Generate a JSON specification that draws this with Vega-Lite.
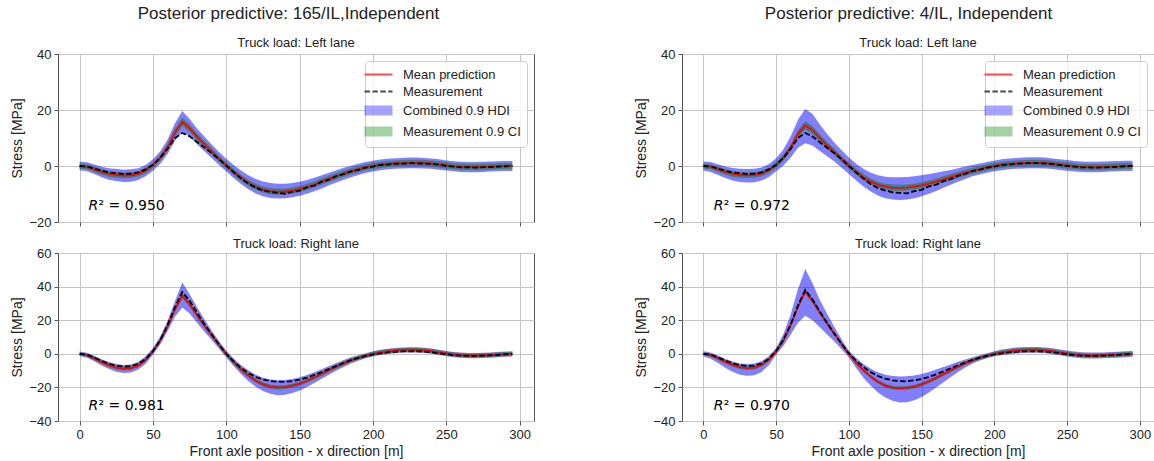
{
"$schema": "https://vega.github.io/schema/vega-lite/v6.json",
"padding": {"left": 10, "top": 4, "right": 0, "bottom": 0},
"config": {
 "font": "Liberation Sans",
 "view": {"stroke": "#555555", "strokeWidth": 1},
 "axis": {"grid": true, "gridColor": "#c4c4c4", "gridWidth": 1, "domain": false, "tickColor": "#555555", "tickSize": 4, "labelFontSize": 13, "labelColor": "#222222", "labelFont": "Liberation Sans", "titleFont": "Liberation Sans", "titleFontSize": 14, "titleFontWeight": "normal", "titleColor": "#222222", "labelPadding": 3, "labelOverlap": false},
 "axisY": {"labelOverlap": false},
 "axisQuantitative": {"labelOverlap": false},
 "title": {"font": "Liberation Sans", "fontWeight": "normal", "color": "#222222"}
},
"datasets": {
"A": [
{"x":0,"m":0,"d":0,"hl":-1.5,"hh":1.5,"cl":-0.9,"ch":0.9},
{"x":5,"m":-0.3,"d":-0.2,"hl":-1.9,"hh":1.3,"cl":-1.2,"ch":0.6},
{"x":10,"m":-1.2,"d":-0.9,"hl":-2.9,"hh":0.5,"cl":-2.1,"ch":-0.3},
{"x":15,"m":-2.1,"d":-1.7,"hl":-4.0,"hh":-0.3,"cl":-3.1,"ch":-1.1},
{"x":20,"m":-2.8,"d":-2.3,"hl":-4.9,"hh":-0.8,"cl":-3.8,"ch":-1.8},
{"x":25,"m":-3.2,"d":-2.6,"hl":-5.4,"hh":-1.1,"cl":-4.2,"ch":-2.2},
{"x":30,"m":-3.4,"d":-2.8,"hl":-5.7,"hh":-1.3,"cl":-4.4,"ch":-2.4},
{"x":35,"m":-3.3,"d":-2.7,"hl":-5.6,"hh":-1.2,"cl":-4.3,"ch":-2.3},
{"x":40,"m":-2.8,"d":-2.3,"hl":-5.0,"hh":-0.8,"cl":-3.8,"ch":-1.8},
{"x":45,"m":-1.6,"d":-1.2,"hl":-3.7,"hh":0.4,"cl":-2.6,"ch":-0.6},
{"x":50,"m":0.3,"d":0.4,"hl":-1.7,"hh":2.4,"cl":-0.7,"ch":1.3},
{"x":55,"m":3.0,"d":2.9,"hl":0.8,"hh":5.3,"cl":1.9,"ch":4.1},
{"x":60,"m":6.8,"d":6.2,"hl":4.3,"hh":9.5,"cl":5.6,"ch":8.0},
{"x":65,"m":12.0,"d":10.0,"hl":9.0,"hh":15.3,"cl":10.6,"ch":13.4},
{"x":70,"m":15.8,"d":11.8,"hl":12.3,"hh":19.6,"cl":14.3,"ch":17.3},
{"x":75,"m":13.5,"d":10.6,"hl":10.5,"hh":16.8,"cl":12.1,"ch":14.9},
{"x":80,"m":10.5,"d":8.6,"hl":7.8,"hh":13.4,"cl":9.2,"ch":11.8},
{"x":85,"m":7.8,"d":6.6,"hl":5.3,"hh":10.5,"cl":6.6,"ch":9.0},
{"x":90,"m":5.2,"d":4.6,"hl":2.9,"hh":7.7,"cl":4.0,"ch":6.4},
{"x":95,"m":2.6,"d":2.4,"hl":0.4,"hh":5.0,"cl":1.5,"ch":3.7},
{"x":100,"m":0.2,"d":0.1,"hl":-2.0,"hh":2.6,"cl":-0.9,"ch":1.3},
{"x":105,"m":-2.1,"d":-2.2,"hl":-4.3,"hh":0.4,"cl":-3.2,"ch":-1.0},
{"x":110,"m":-4.2,"d":-4.4,"hl":-6.4,"hh":-1.6,"cl":-5.3,"ch":-3.1},
{"x":115,"m":-6.0,"d":-6.3,"hl":-8.3,"hh":-3.3,"cl":-7.1,"ch":-4.9},
{"x":120,"m":-7.4,"d":-7.7,"hl":-9.8,"hh":-4.6,"cl":-8.5,"ch":-6.3},
{"x":125,"m":-8.4,"d":-8.8,"hl":-10.8,"hh":-5.5,"cl":-9.5,"ch":-7.3},
{"x":130,"m":-9.0,"d":-9.3,"hl":-11.4,"hh":-6.1,"cl":-10.1,"ch":-7.9},
{"x":135,"m":-9.2,"d":-9.6,"hl":-11.6,"hh":-6.3,"cl":-10.3,"ch":-8.1},
{"x":140,"m":-9.1,"d":-9.9,"hl":-11.5,"hh":-6.3,"cl":-10.2,"ch":-8.0},
{"x":145,"m":-8.8,"d":-9.2,"hl":-11.2,"hh":-6.1,"cl":-9.9,"ch":-7.7},
{"x":150,"m":-8.2,"d":-8.8,"hl":-10.6,"hh":-5.6,"cl":-9.3,"ch":-7.1},
{"x":155,"m":-7.5,"d":-7.6,"hl":-9.9,"hh":-5.0,"cl":-8.6,"ch":-6.4},
{"x":160,"m":-6.6,"d":-7.0,"hl":-9.0,"hh":-4.2,"cl":-7.7,"ch":-5.5},
{"x":165,"m":-5.6,"d":-5.6,"hl":-8.0,"hh":-3.3,"cl":-6.7,"ch":-4.5},
{"x":170,"m":-4.6,"d":-4.9,"hl":-6.9,"hh":-2.4,"cl":-5.7,"ch":-3.5},
{"x":175,"m":-3.6,"d":-3.6,"hl":-5.9,"hh":-1.5,"cl":-4.7,"ch":-2.5},
{"x":180,"m":-2.7,"d":-2.9,"hl":-4.9,"hh":-0.6,"cl":-3.8,"ch":-1.6},
{"x":185,"m":-1.9,"d":-1.9,"hl":-4.0,"hh":0.1,"cl":-3.0,"ch":-0.8},
{"x":190,"m":-1.2,"d":-1.4,"hl":-3.2,"hh":0.8,"cl":-2.3,"ch":-0.1},
{"x":195,"m":-0.5,"d":-0.6,"hl":-2.5,"hh":1.4,"cl":-1.6,"ch":0.6},
{"x":200,"m":0,"d":-0.2,"hl":-2.0,"hh":1.9,"cl":-1.1,"ch":1.1},
{"x":205,"m":0.4,"d":0.4,"hl":-1.5,"hh":2.3,"cl":-0.7,"ch":1.5},
{"x":210,"m":0.7,"d":0.5,"hl":-1.2,"hh":2.6,"cl":-0.4,"ch":1.8},
{"x":215,"m":0.9,"d":0.8,"hl":-1.0,"hh":2.8,"cl":-0.2,"ch":2.0},
{"x":220,"m":1.0,"d":0.8,"hl":-0.9,"hh":2.9,"cl":-0.1,"ch":2.1},
{"x":225,"m":1.1,"d":1.0,"hl":-0.8,"hh":3.0,"cl":0.0,"ch":2.2},
{"x":230,"m":1.1,"d":0.9,"hl":-0.8,"hh":3.0,"cl":0.0,"ch":2.2},
{"x":235,"m":1.0,"d":0.9,"hl":-0.9,"hh":2.9,"cl":-0.1,"ch":2.1},
{"x":240,"m":0.9,"d":0.7,"hl":-1.0,"hh":2.7,"cl":-0.2,"ch":2.0},
{"x":245,"m":0.6,"d":0.5,"hl":-1.3,"hh":2.4,"cl":-0.5,"ch":1.7},
{"x":250,"m":0.2,"d":0.0,"hl":-1.6,"hh":2.0,"cl":-0.9,"ch":1.3},
{"x":255,"m":-0.1,"d":-0.2,"hl":-1.9,"hh":1.7,"cl":-1.2,"ch":1.0},
{"x":260,"m":-0.3,"d":-0.5,"hl":-2.1,"hh":1.5,"cl":-1.4,"ch":0.8},
{"x":265,"m":-0.4,"d":-0.4,"hl":-2.2,"hh":1.4,"cl":-1.5,"ch":0.7},
{"x":270,"m":-0.4,"d":-0.6,"hl":-2.2,"hh":1.4,"cl":-1.5,"ch":0.7},
{"x":275,"m":-0.3,"d":-0.4,"hl":-2.1,"hh":1.5,"cl":-1.4,"ch":0.8},
{"x":280,"m":-0.2,"d":-0.4,"hl":-2.0,"hh":1.6,"cl":-1.3,"ch":0.9},
{"x":285,"m":-0.1,"d":-0.2,"hl":-1.9,"hh":1.7,"cl":-1.2,"ch":1.0},
{"x":290,"m":0,"d":-0.1,"hl":-1.8,"hh":1.8,"cl":-1.1,"ch":1.1},
{"x":295,"m":0,"d":0,"hl":-1.8,"hh":1.8,"cl":-1.1,"ch":1.1}
],
"B": [
{"x":0,"m":0,"d":0,"hl":-1.6,"hh":1.6,"cl":-0.9,"ch":0.9},
{"x":5,"m":-0.3,"d":-0.2,"hl":-2.1,"hh":1.4,"cl":-1.2,"ch":0.6},
{"x":10,"m":-1.2,"d":-0.9,"hl":-3.2,"hh":0.6,"cl":-2.1,"ch":-0.3},
{"x":15,"m":-2.1,"d":-1.7,"hl":-4.3,"hh":-0.2,"cl":-3.1,"ch":-1.1},
{"x":20,"m":-2.8,"d":-2.3,"hl":-5.2,"hh":-0.7,"cl":-3.8,"ch":-1.8},
{"x":25,"m":-3.2,"d":-2.6,"hl":-5.7,"hh":-1.0,"cl":-4.2,"ch":-2.2},
{"x":30,"m":-3.3,"d":-2.8,"hl":-5.9,"hh":-1.1,"cl":-4.3,"ch":-2.3},
{"x":35,"m":-3.2,"d":-2.7,"hl":-5.8,"hh":-1.0,"cl":-4.2,"ch":-2.2},
{"x":40,"m":-2.7,"d":-2.3,"hl":-5.2,"hh":-0.5,"cl":-3.7,"ch":-1.7},
{"x":45,"m":-1.5,"d":-1.2,"hl":-3.9,"hh":0.7,"cl":-2.5,"ch":-0.5},
{"x":50,"m":0.4,"d":0.4,"hl":-1.9,"hh":2.8,"cl":-0.6,"ch":1.4},
{"x":55,"m":3.0,"d":2.9,"hl":0.2,"hh":6.0,"cl":1.9,"ch":4.1},
{"x":60,"m":6.6,"d":6.2,"hl":3.0,"hh":10.6,"cl":5.4,"ch":7.8},
{"x":65,"m":11.5,"d":10.0,"hl":6.5,"hh":16.5,"cl":10.1,"ch":12.9},
{"x":70,"m":14.5,"d":11.8,"hl":8.1,"hh":20.4,"cl":13.0,"ch":16.0},
{"x":75,"m":12.8,"d":10.5,"hl":7.3,"hh":18.6,"cl":11.4,"ch":14.2},
{"x":80,"m":10.0,"d":8.5,"hl":5.4,"hh":14.8,"cl":8.7,"ch":11.3},
{"x":85,"m":7.4,"d":6.5,"hl":3.5,"hh":11.4,"cl":6.2,"ch":8.6},
{"x":90,"m":5.0,"d":4.6,"hl":1.6,"hh":8.4,"cl":3.8,"ch":6.2},
{"x":95,"m":2.5,"d":2.4,"hl":-0.6,"hh":5.6,"cl":1.4,"ch":3.6},
{"x":100,"m":0.1,"d":0.0,"hl":-2.9,"hh":3.0,"cl":-1.0,"ch":1.2},
{"x":105,"m":-2.1,"d":-2.3,"hl":-5.2,"hh":0.8,"cl":-3.2,"ch":-1.0},
{"x":110,"m":-4.0,"d":-4.5,"hl":-7.3,"hh":-1.0,"cl":-5.1,"ch":-2.9},
{"x":115,"m":-5.6,"d":-6.5,"hl":-9.1,"hh":-2.4,"cl":-6.7,"ch":-4.5},
{"x":120,"m":-6.7,"d":-7.9,"hl":-10.5,"hh":-3.3,"cl":-7.8,"ch":-5.6},
{"x":125,"m":-7.4,"d":-8.8,"hl":-11.5,"hh":-3.8,"cl":-8.5,"ch":-6.3},
{"x":130,"m":-7.7,"d":-9.4,"hl":-12.0,"hh":-4.0,"cl":-8.8,"ch":-6.6},
{"x":135,"m":-7.8,"d":-9.6,"hl":-12.1,"hh":-4.0,"cl":-8.9,"ch":-6.7},
{"x":140,"m":-7.7,"d":-9.8,"hl":-12.0,"hh":-3.9,"cl":-8.8,"ch":-6.6},
{"x":145,"m":-7.4,"d":-9.0,"hl":-11.5,"hh":-3.7,"cl":-8.5,"ch":-6.3},
{"x":150,"m":-6.9,"d":-8.5,"hl":-10.8,"hh":-3.3,"cl":-8.0,"ch":-5.8},
{"x":155,"m":-6.3,"d":-7.3,"hl":-9.9,"hh":-2.9,"cl":-7.4,"ch":-5.2},
{"x":160,"m":-5.6,"d":-6.7,"hl":-8.9,"hh":-2.4,"cl":-6.7,"ch":-4.5},
{"x":165,"m":-4.8,"d":-5.4,"hl":-7.8,"hh":-1.9,"cl":-5.9,"ch":-3.7},
{"x":170,"m":-4.0,"d":-4.7,"hl":-6.7,"hh":-1.4,"cl":-5.1,"ch":-2.9},
{"x":175,"m":-3.2,"d":-3.5,"hl":-5.6,"hh":-0.8,"cl":-4.3,"ch":-2.1},
{"x":180,"m":-2.4,"d":-2.8,"hl":-4.6,"hh":-0.2,"cl":-3.5,"ch":-1.3},
{"x":185,"m":-1.7,"d":-1.8,"hl":-3.7,"hh":0.4,"cl":-2.8,"ch":-0.6},
{"x":190,"m":-1.1,"d":-1.3,"hl":-3.0,"hh":0.9,"cl":-2.2,"ch":0.0},
{"x":195,"m":-0.5,"d":-0.6,"hl":-2.4,"hh":1.4,"cl":-1.6,"ch":0.6},
{"x":200,"m":0,"d":-0.2,"hl":-1.9,"hh":1.9,"cl":-1.1,"ch":1.1},
{"x":205,"m":0.4,"d":0.4,"hl":-1.5,"hh":2.4,"cl":-0.7,"ch":1.5},
{"x":210,"m":0.7,"d":0.5,"hl":-1.2,"hh":2.7,"cl":-0.4,"ch":1.8},
{"x":215,"m":0.9,"d":0.8,"hl":-1.0,"hh":2.9,"cl":-0.2,"ch":2.0},
{"x":220,"m":1.0,"d":0.9,"hl":-0.9,"hh":3.0,"cl":-0.1,"ch":2.1},
{"x":225,"m":1.1,"d":1.0,"hl":-0.8,"hh":3.1,"cl":0.0,"ch":2.2},
{"x":230,"m":1.1,"d":1.0,"hl":-0.8,"hh":3.1,"cl":0.0,"ch":2.2},
{"x":235,"m":1.0,"d":0.9,"hl":-0.9,"hh":3.0,"cl":-0.1,"ch":2.1},
{"x":240,"m":0.8,"d":0.7,"hl":-1.1,"hh":2.7,"cl":-0.3,"ch":1.9},
{"x":245,"m":0.5,"d":0.4,"hl":-1.4,"hh":2.4,"cl":-0.6,"ch":1.6},
{"x":250,"m":0.2,"d":0.0,"hl":-1.7,"hh":2.1,"cl":-0.9,"ch":1.3},
{"x":255,"m":-0.1,"d":-0.2,"hl":-2.0,"hh":1.8,"cl":-1.2,"ch":1.0},
{"x":260,"m":-0.3,"d":-0.5,"hl":-2.1,"hh":1.6,"cl":-1.4,"ch":0.8},
{"x":265,"m":-0.4,"d":-0.5,"hl":-2.2,"hh":1.5,"cl":-1.5,"ch":0.7},
{"x":270,"m":-0.4,"d":-0.6,"hl":-2.2,"hh":1.5,"cl":-1.5,"ch":0.7},
{"x":275,"m":-0.3,"d":-0.5,"hl":-2.1,"hh":1.6,"cl":-1.4,"ch":0.8},
{"x":280,"m":-0.2,"d":-0.4,"hl":-2.0,"hh":1.7,"cl":-1.3,"ch":0.9},
{"x":285,"m":-0.1,"d":-0.3,"hl":-1.9,"hh":1.8,"cl":-1.2,"ch":1.0},
{"x":290,"m":0,"d":-0.1,"hl":-1.8,"hh":1.9,"cl":-1.1,"ch":1.1},
{"x":295,"m":0,"d":0,"hl":-1.8,"hh":1.9,"cl":-1.1,"ch":1.1}
],
"C": [
{"x":0,"m":0,"d":0,"hl":-1.3,"hh":1.3,"cl":-0.8,"ch":0.8},
{"x":5,"m":-0.8,"d":-0.5,"hl":-2.3,"hh":0.6,"cl":-1.7,"ch":0.1},
{"x":10,"m":-2.8,"d":-2.2,"hl":-4.5,"hh":-1.2,"cl":-3.8,"ch":-1.8},
{"x":15,"m":-5.0,"d":-4.2,"hl":-7.0,"hh":-3.2,"cl":-6.1,"ch":-3.9},
{"x":20,"m":-6.9,"d":-5.9,"hl":-9.1,"hh":-4.9,"cl":-8.0,"ch":-5.8},
{"x":25,"m":-8.3,"d":-7.1,"hl":-10.7,"hh":-6.1,"cl":-9.4,"ch":-7.2},
{"x":30,"m":-8.9,"d":-7.6,"hl":-11.5,"hh":-6.6,"cl":-10.0,"ch":-7.8},
{"x":35,"m":-8.6,"d":-7.4,"hl":-11.2,"hh":-6.3,"cl":-9.7,"ch":-7.5},
{"x":40,"m":-6.9,"d":-6.0,"hl":-9.4,"hh":-4.7,"cl":-8.0,"ch":-5.8},
{"x":45,"m":-3.6,"d":-3.1,"hl":-5.9,"hh":-1.5,"cl":-4.7,"ch":-2.5},
{"x":50,"m":1.5,"d":1.6,"hl":-0.6,"hh":3.5,"cl":0.4,"ch":2.6},
{"x":55,"m":8.0,"d":8.2,"hl":5.5,"hh":10.5,"cl":6.8,"ch":9.2},
{"x":60,"m":16.5,"d":17.2,"hl":13.5,"hh":19.8,"cl":15.2,"ch":17.8},
{"x":65,"m":26.5,"d":27.8,"hl":22.0,"hh":31.5,"cl":25.0,"ch":28.0},
{"x":70,"m":34.5,"d":36.8,"hl":27.5,"hh":42.5,"cl":33.0,"ch":36.0},
{"x":75,"m":29.5,"d":31.5,"hl":24.0,"hh":35.5,"cl":28.0,"ch":31.0},
{"x":80,"m":23.0,"d":24.5,"hl":18.5,"hh":27.8,"cl":21.6,"ch":24.4},
{"x":85,"m":16.8,"d":17.8,"hl":13.2,"hh":20.6,"cl":15.5,"ch":18.1},
{"x":90,"m":11.0,"d":11.6,"hl":8.2,"hh":13.8,"cl":9.8,"ch":12.2},
{"x":95,"m":5.2,"d":5.6,"hl":3.0,"hh":7.4,"cl":4.0,"ch":6.4},
{"x":100,"m":-0.2,"d":0.0,"hl":-2.2,"hh":1.8,"cl":-1.4,"ch":1.0},
{"x":105,"m":-5.0,"d":-4.5,"hl":-7.3,"hh":-2.8,"cl":-6.2,"ch":-3.8},
{"x":110,"m":-9.3,"d":-8.4,"hl":-12.0,"hh":-6.6,"cl":-10.5,"ch":-8.1},
{"x":115,"m":-13.0,"d":-11.5,"hl":-16.2,"hh":-9.8,"cl":-14.2,"ch":-11.8},
{"x":120,"m":-16.0,"d":-13.8,"hl":-19.6,"hh":-12.4,"cl":-17.2,"ch":-14.8},
{"x":125,"m":-18.2,"d":-15.3,"hl":-22.2,"hh":-14.3,"cl":-19.4,"ch":-17.0},
{"x":130,"m":-19.5,"d":-16.2,"hl":-23.8,"hh":-15.3,"cl":-20.7,"ch":-18.3},
{"x":135,"m":-20.0,"d":-16.6,"hl":-24.6,"hh":-15.7,"cl":-21.2,"ch":-18.8},
{"x":140,"m":-19.8,"d":-16.7,"hl":-24.4,"hh":-15.6,"cl":-21.0,"ch":-18.6},
{"x":145,"m":-19.0,"d":-16.2,"hl":-23.4,"hh":-15.0,"cl":-20.2,"ch":-17.8},
{"x":150,"m":-17.8,"d":-15.4,"hl":-21.9,"hh":-14.0,"cl":-19.0,"ch":-16.6},
{"x":155,"m":-16.1,"d":-14.2,"hl":-19.8,"hh":-12.6,"cl":-17.3,"ch":-14.9},
{"x":160,"m":-14.1,"d":-12.6,"hl":-17.4,"hh":-11.0,"cl":-15.3,"ch":-12.9},
{"x":165,"m":-12.0,"d":-10.9,"hl":-14.9,"hh":-9.2,"cl":-13.2,"ch":-10.8},
{"x":170,"m":-9.8,"d":-9.0,"hl":-12.4,"hh":-7.3,"cl":-11.0,"ch":-8.6},
{"x":175,"m":-7.7,"d":-7.2,"hl":-10.0,"hh":-5.5,"cl":-8.9,"ch":-6.5},
{"x":180,"m":-5.7,"d":-5.4,"hl":-7.8,"hh":-3.7,"cl":-6.9,"ch":-4.5},
{"x":185,"m":-3.9,"d":-3.8,"hl":-5.8,"hh":-2.1,"cl":-5.1,"ch":-2.7},
{"x":190,"m":-2.4,"d":-2.4,"hl":-4.1,"hh":-0.8,"cl":-3.6,"ch":-1.2},
{"x":195,"m":-1.1,"d":-1.3,"hl":-2.7,"hh":0.4,"cl":-2.3,"ch":0.1},
{"x":200,"m":0.0,"d":-0.4,"hl":-1.6,"hh":1.5,"cl":-1.2,"ch":1.2},
{"x":205,"m":0.9,"d":0.3,"hl":-0.7,"hh":2.4,"cl":-0.3,"ch":2.1},
{"x":210,"m":1.5,"d":0.8,"hl":-0.1,"hh":3.0,"cl":0.3,"ch":2.7},
{"x":215,"m":2.0,"d":1.2,"hl":0.4,"hh":3.5,"cl":0.8,"ch":3.2},
{"x":220,"m":2.3,"d":1.4,"hl":0.7,"hh":3.8,"cl":1.1,"ch":3.5},
{"x":225,"m":2.4,"d":1.5,"hl":0.8,"hh":3.9,"cl":1.2,"ch":3.6},
{"x":230,"m":2.4,"d":1.5,"hl":0.8,"hh":3.9,"cl":1.2,"ch":3.6},
{"x":235,"m":2.1,"d":1.3,"hl":0.5,"hh":3.6,"cl":0.9,"ch":3.3},
{"x":240,"m":1.6,"d":0.9,"hl":0.0,"hh":3.1,"cl":0.4,"ch":2.8},
{"x":245,"m":0.9,"d":0.3,"hl":-0.7,"hh":2.4,"cl":-0.3,"ch":2.1},
{"x":250,"m":0.2,"d":-0.3,"hl":-1.4,"hh":1.7,"cl":-1.0,"ch":1.4},
{"x":255,"m":-0.4,"d":-0.8,"hl":-2.0,"hh":1.1,"cl":-1.6,"ch":0.8},
{"x":260,"m":-0.8,"d":-1.1,"hl":-2.4,"hh":0.7,"cl":-2.0,"ch":0.4},
{"x":265,"m":-1.0,"d":-1.2,"hl":-2.6,"hh":0.5,"cl":-2.2,"ch":0.2},
{"x":270,"m":-1.0,"d":-1.2,"hl":-2.6,"hh":0.5,"cl":-2.2,"ch":0.2},
{"x":275,"m":-0.9,"d":-1.1,"hl":-2.5,"hh":0.6,"cl":-2.1,"ch":0.3},
{"x":280,"m":-0.7,"d":-0.9,"hl":-2.3,"hh":0.8,"cl":-1.9,"ch":0.5},
{"x":285,"m":-0.5,"d":-0.6,"hl":-2.1,"hh":1.0,"cl":-1.7,"ch":0.7},
{"x":290,"m":-0.2,"d":-0.3,"hl":-1.8,"hh":1.3,"cl":-1.4,"ch":1.0},
{"x":295,"m":0.0,"d":0.0,"hl":-1.6,"hh":1.5,"cl":-1.2,"ch":1.2}
],
"D": [
{"x":0,"m":0,"d":0,"hl":-1.5,"hh":1.5,"cl":-0.8,"ch":0.8},
{"x":5,"m":-0.8,"d":-0.5,"hl":-2.9,"hh":0.7,"cl":-1.7,"ch":0.1},
{"x":10,"m":-2.7,"d":-2.1,"hl":-5.5,"hh":-1.0,"cl":-3.7,"ch":-1.7},
{"x":15,"m":-4.8,"d":-4.0,"hl":-8.3,"hh":-3.0,"cl":-5.9,"ch":-3.7},
{"x":20,"m":-6.6,"d":-5.6,"hl":-10.7,"hh":-4.6,"cl":-7.7,"ch":-5.5},
{"x":25,"m":-7.9,"d":-6.7,"hl":-12.4,"hh":-5.7,"cl":-9.0,"ch":-6.8},
{"x":30,"m":-8.5,"d":-7.2,"hl":-13.1,"hh":-6.1,"cl":-9.6,"ch":-7.4},
{"x":35,"m":-8.2,"d":-7.0,"hl":-12.8,"hh":-5.8,"cl":-9.3,"ch":-7.1},
{"x":40,"m":-6.6,"d":-5.7,"hl":-10.8,"hh":-4.3,"cl":-7.7,"ch":-5.5},
{"x":45,"m":-3.5,"d":-2.9,"hl":-6.6,"hh":-1.4,"cl":-4.6,"ch":-2.4},
{"x":50,"m":1.4,"d":1.7,"hl":-0.5,"hh":3.6,"cl":0.3,"ch":2.5},
{"x":55,"m":8.0,"d":8.4,"hl":4.8,"hh":11.8,"cl":6.8,"ch":9.2},
{"x":60,"m":17.0,"d":17.6,"hl":11.5,"hh":23.5,"cl":15.7,"ch":18.3},
{"x":65,"m":28.0,"d":28.8,"hl":18.5,"hh":38.5,"cl":26.6,"ch":29.4},
{"x":70,"m":37.1,"d":38.0,"hl":22.6,"hh":50.5,"cl":35.6,"ch":38.6},
{"x":75,"m":31.5,"d":32.3,"hl":20.0,"hh":42.0,"cl":30.1,"ch":32.9},
{"x":80,"m":24.5,"d":25.2,"hl":15.8,"hh":32.0,"cl":23.2,"ch":25.8},
{"x":85,"m":18.0,"d":18.4,"hl":11.5,"hh":23.8,"cl":16.8,"ch":19.2},
{"x":90,"m":11.8,"d":12.0,"hl":7.3,"hh":16.0,"cl":10.7,"ch":12.9},
{"x":95,"m":5.7,"d":5.8,"hl":2.7,"hh":8.5,"cl":4.6,"ch":6.8},
{"x":100,"m":-0.1,"d":0.2,"hl":-2.2,"hh":1.8,"cl":-1.2,"ch":1.0},
{"x":105,"m":-5.2,"d":-4.2,"hl":-8.5,"hh":-2.5,"cl":-6.3,"ch":-4.1},
{"x":110,"m":-9.8,"d":-7.9,"hl":-14.2,"hh":-6.0,"cl":-10.9,"ch":-8.7},
{"x":115,"m":-13.6,"d":-10.9,"hl":-19.0,"hh":-8.9,"cl":-14.7,"ch":-12.5},
{"x":120,"m":-16.7,"d":-13.2,"hl":-23.0,"hh":-11.0,"cl":-17.8,"ch":-15.6},
{"x":125,"m":-18.9,"d":-14.8,"hl":-26.0,"hh":-12.4,"cl":-20.0,"ch":-17.8},
{"x":130,"m":-20.1,"d":-15.8,"hl":-28.0,"hh":-13.2,"cl":-21.2,"ch":-19.0},
{"x":135,"m":-20.5,"d":-16.3,"hl":-29.0,"hh":-13.5,"cl":-21.6,"ch":-19.4},
{"x":140,"m":-20.3,"d":-16.4,"hl":-28.8,"hh":-13.4,"cl":-21.4,"ch":-19.2},
{"x":145,"m":-19.5,"d":-15.8,"hl":-27.6,"hh":-12.9,"cl":-20.6,"ch":-18.4},
{"x":150,"m":-18.2,"d":-15.0,"hl":-25.7,"hh":-12.0,"cl":-19.3,"ch":-17.1},
{"x":155,"m":-16.4,"d":-13.8,"hl":-23.0,"hh":-10.8,"cl":-17.5,"ch":-15.3},
{"x":160,"m":-14.3,"d":-12.2,"hl":-20.0,"hh":-9.4,"cl":-15.4,"ch":-13.2},
{"x":165,"m":-12.1,"d":-10.5,"hl":-16.9,"hh":-7.9,"cl":-13.2,"ch":-11.0},
{"x":170,"m":-9.9,"d":-8.6,"hl":-13.8,"hh":-6.4,"cl":-11.0,"ch":-8.8},
{"x":175,"m":-7.7,"d":-6.8,"hl":-10.8,"hh":-4.8,"cl":-8.8,"ch":-6.6},
{"x":180,"m":-5.7,"d":-5.1,"hl":-8.1,"hh":-3.4,"cl":-6.8,"ch":-4.6},
{"x":185,"m":-3.9,"d":-3.6,"hl":-5.8,"hh":-2.0,"cl":-5.0,"ch":-2.8},
{"x":190,"m":-2.4,"d":-2.3,"hl":-4.0,"hh":-0.8,"cl":-3.5,"ch":-1.3},
{"x":195,"m":-1.1,"d":-1.2,"hl":-2.6,"hh":0.4,"cl":-2.2,"ch":0.0},
{"x":200,"m":0.0,"d":-0.3,"hl":-1.5,"hh":1.5,"cl":-1.1,"ch":1.1},
{"x":205,"m":0.9,"d":0.3,"hl":-0.9,"hh":2.6,"cl":-0.3,"ch":2.1},
{"x":210,"m":1.5,"d":0.8,"hl":-0.3,"hh":3.2,"cl":0.3,"ch":2.7},
{"x":215,"m":2.0,"d":1.2,"hl":0.2,"hh":3.7,"cl":0.8,"ch":3.2},
{"x":220,"m":2.3,"d":1.4,"hl":0.5,"hh":4.0,"cl":1.1,"ch":3.5},
{"x":225,"m":2.4,"d":1.5,"hl":0.6,"hh":4.1,"cl":1.2,"ch":3.6},
{"x":230,"m":2.4,"d":1.5,"hl":0.6,"hh":4.1,"cl":1.2,"ch":3.6},
{"x":235,"m":2.1,"d":1.3,"hl":0.3,"hh":3.8,"cl":0.9,"ch":3.3},
{"x":240,"m":1.6,"d":0.9,"hl":-0.2,"hh":3.3,"cl":0.4,"ch":2.8},
{"x":245,"m":0.9,"d":0.3,"hl":-0.9,"hh":2.6,"cl":-0.3,"ch":2.1},
{"x":250,"m":0.2,"d":-0.3,"hl":-1.6,"hh":1.9,"cl":-1.0,"ch":1.4},
{"x":255,"m":-0.4,"d":-0.8,"hl":-2.2,"hh":1.3,"cl":-1.6,"ch":0.8},
{"x":260,"m":-0.8,"d":-1.1,"hl":-2.6,"hh":0.9,"cl":-2.0,"ch":0.4},
{"x":265,"m":-1.0,"d":-1.2,"hl":-2.8,"hh":0.7,"cl":-2.2,"ch":0.2},
{"x":270,"m":-1.0,"d":-1.2,"hl":-2.8,"hh":0.7,"cl":-2.2,"ch":0.2},
{"x":275,"m":-0.9,"d":-1.1,"hl":-2.7,"hh":0.8,"cl":-2.1,"ch":0.3},
{"x":280,"m":-0.7,"d":-0.9,"hl":-2.5,"hh":1.0,"cl":-1.9,"ch":0.5},
{"x":285,"m":-0.5,"d":-0.6,"hl":-2.3,"hh":1.2,"cl":-1.7,"ch":0.7},
{"x":290,"m":-0.2,"d":-0.3,"hl":-2.0,"hh":1.5,"cl":-1.4,"ch":1.0},
{"x":295,"m":0.0,"d":0.0,"hl":-1.8,"hh":1.7,"cl":-1.2,"ch":1.2}
]
},
"spacing": 99,
"resolve": {"scale": {"fill": "independent", "stroke": "independent", "shape": "independent", "strokeDash": "independent"}, "legend": {"fill": "independent", "stroke": "independent", "shape": "independent", "strokeDash": "independent"}},
"hconcat": [
{
 "title": {"text": "Posterior predictive: 165/IL,Independent", "fontSize": 17, "offset": 14, "anchor": "middle", "dx": 16},
 "spacing": 7,
 "resolve": {"scale": {"fill": "independent", "stroke": "independent", "shape": "independent", "strokeDash": "independent"}, "legend": {"fill": "independent", "stroke": "independent", "shape": "independent", "strokeDash": "independent"}},
 "vconcat": [
  {
   "width": 476, "height": 168,
   "title": {"text": "Truck load: Left lane", "fontSize": 13, "offset": -2, "anchor": "middle", "frame": "group"},
   "layer": [
    {"data": {"name": "A"},
     "encoding": {"x": {"field": "x", "type": "quantitative", "scale": {"domain": [-14.75, 309.75], "nice": false, "zero": false}, "axis": {"values": [0,50,100,150,200,250,300], "labels": false, "title": null}}},
     "layer": [
      {"mark": {"type": "area", "opacity": 0.5, "color": "#0000ff"}, "encoding": {"y": {"field": "hl", "type": "quantitative", "scale": {"domain": [-20, 40], "nice": false}, "axis": {"values": [-20,0,20,40], "title": "Stress [MPa]", "labelOverlap": false}}, "y2": {"field": "hh"}}},
      {"mark": {"type": "area", "opacity": 0.5, "color": "#008000"}, "encoding": {"y": {"field": "cl", "type": "quantitative"}, "y2": {"field": "ch"}}},
      {"mark": {"type": "line", "strokeWidth": 1.8, "color": "#ff0000"}, "encoding": {"y": {"field": "m", "type": "quantitative"}}},
      {"mark": {"type": "line", "strokeWidth": 1.8, "strokeDash": [5.5, 2.4], "color": "#000000"}, "encoding": {"y": {"field": "d", "type": "quantitative"}}}
     ]},
    {"data": {"values": [{}]}, "mark": {"type": "point", "size": 0, "filled": true, "strokeWidth": 1.8},
     "encoding": {"x": {"datum": 0}, "y": {"datum": 0},
      "fill": {"datum": "Mean prediction", "scale": {"domain": ["Mean prediction","Measurement","Combined 0.9 HDI","Measurement 0.9 CI"], "range": ["transparent","transparent","rgba(0,0,255,0.5)","rgba(0,128,0,0.5)"]},
        "legend": {"orient": "top-right", "offset": 7, "title": null, "padding": 6, "rowPadding": 2, "labelOffset": 17, "labelFontSize": 13, "labelFont": "Liberation Sans", "labelColor": "#222222", "symbolSize": 169, "symbolStrokeWidth": 1.8, "symbolOpacity": 1, "fillColor": "rgba(255,255,255,0.8)", "strokeColor": "#cccccc", "cornerRadius": 3}},
      "stroke": {"datum": "Mean prediction", "scale": {"domain": ["Mean prediction","Measurement","Combined 0.9 HDI","Measurement 0.9 CI"], "range": ["#ff0000","#000000","transparent","transparent"]}, "legend": {"title": null}},
      "shape": {"datum": "Mean prediction", "scale": {"domain": ["Mean prediction","Measurement","Combined 0.9 HDI","Measurement 0.9 CI"], "range": ["M-2.154,0H2.154","M-2.154,0H2.154","M-2.154,-0.769H2.154V0.769H-2.154Z","M-2.154,-0.769H2.154V0.769H-2.154Z"]}, "legend": {"title": null}},
      "strokeDash": {"datum": "Mean prediction", "scale": {"domain": ["Mean prediction","Measurement","Combined 0.9 HDI","Measurement 0.9 CI"], "range": [[1,0],[5.5,2.4],[1,0],[1,0]]}, "legend": {"title": null}}
     }},
    {"data": {"values": [{}]}, "mark": {"type": "text", "font": "DejaVu Sans", "fontSize": 14, "fontStyle": "italic", "align": "left", "baseline": "alphabetic", "color": "#000000"}, "encoding": {"x": {"datum": 6}, "y": {"datum": -15.7}, "text": {"value": "R"}}},
    {"data": {"values": [{}]}, "mark": {"type": "text", "font": "DejaVu Sans", "fontSize": 14, "align": "left", "baseline": "alphabetic", "dx": 10, "color": "#000000"}, "encoding": {"x": {"datum": 6}, "y": {"datum": -15.7}, "text": {"value": "² = 0.950"}}}
   ]
  },
  {
   "width": 476, "height": 168,
   "title": {"text": "Truck load: Right lane", "fontSize": 13, "offset": -4, "anchor": "middle", "frame": "group"},
   "layer": [
    {"data": {"name": "C"},
     "encoding": {"x": {"field": "x", "type": "quantitative", "scale": {"domain": [-14.75, 309.75], "nice": false, "zero": false}, "axis": {"values": [0,50,100,150,200,250,300], "title": "Front axle position - x direction [m]", "titlePadding": 3}}},
     "layer": [
      {"mark": {"type": "area", "opacity": 0.5, "color": "#0000ff"}, "encoding": {"y": {"field": "hl", "type": "quantitative", "scale": {"domain": [-40, 60], "nice": false}, "axis": {"values": [-40,-20,0,20,40,60], "tickCount": 6, "title": "Stress [MPa]", "labelOverlap": false, "labelBound": false}}, "y2": {"field": "hh"}}},
      {"mark": {"type": "area", "opacity": 0.5, "color": "#008000"}, "encoding": {"y": {"field": "cl", "type": "quantitative"}, "y2": {"field": "ch"}}},
      {"mark": {"type": "line", "strokeWidth": 1.8, "color": "#ff0000"}, "encoding": {"y": {"field": "m", "type": "quantitative"}}},
      {"mark": {"type": "line", "strokeWidth": 1.8, "strokeDash": [5.5, 2.4], "color": "#000000"}, "encoding": {"y": {"field": "d", "type": "quantitative"}}}
     ]},
    {"data": {"values": [{}]}, "mark": {"type": "text", "font": "DejaVu Sans", "fontSize": 14, "fontStyle": "italic", "align": "left", "baseline": "alphabetic", "color": "#000000"}, "encoding": {"x": {"datum": 6}, "y": {"datum": -33.3}, "text": {"value": "R"}}},
    {"data": {"values": [{}]}, "mark": {"type": "text", "font": "DejaVu Sans", "fontSize": 14, "align": "left", "baseline": "alphabetic", "dx": 10, "color": "#000000"}, "encoding": {"x": {"datum": 6}, "y": {"datum": -33.3}, "text": {"value": "² = 0.981"}}}
   ]
  }
 ]
},
{
 "title": {"text": "Posterior predictive: 4/IL, Independent", "fontSize": 17, "offset": 14, "anchor": "middle", "dx": 14},
 "spacing": 7,
 "resolve": {"scale": {"fill": "independent", "stroke": "independent", "shape": "independent", "strokeDash": "independent"}, "legend": {"fill": "independent", "stroke": "independent", "shape": "independent", "strokeDash": "independent"}},
 "vconcat": [
  {
   "width": 472, "height": 168,
   "title": {"text": "Truck load: Left lane", "fontSize": 13, "offset": -2, "anchor": "middle", "frame": "group"},
   "layer": [
    {"data": {"name": "B"},
     "encoding": {"x": {"field": "x", "type": "quantitative", "scale": {"domain": [-14.75, 309.75], "nice": false, "zero": false}, "axis": {"values": [0,50,100,150,200,250,300], "labels": false, "title": null}}},
     "layer": [
      {"mark": {"type": "area", "opacity": 0.5, "color": "#0000ff"}, "encoding": {"y": {"field": "hl", "type": "quantitative", "scale": {"domain": [-20, 40], "nice": false}, "axis": {"values": [-20,0,20,40], "title": "Stress [MPa]", "labelOverlap": false}}, "y2": {"field": "hh"}}},
      {"mark": {"type": "area", "opacity": 0.5, "color": "#008000"}, "encoding": {"y": {"field": "cl", "type": "quantitative"}, "y2": {"field": "ch"}}},
      {"mark": {"type": "line", "strokeWidth": 1.8, "color": "#ff0000"}, "encoding": {"y": {"field": "m", "type": "quantitative"}}},
      {"mark": {"type": "line", "strokeWidth": 1.8, "strokeDash": [5.5, 2.4], "color": "#000000"}, "encoding": {"y": {"field": "d", "type": "quantitative"}}}
     ]},
    {"data": {"values": [{}]}, "mark": {"type": "point", "size": 0, "filled": true, "strokeWidth": 1.8},
     "encoding": {"x": {"datum": 0}, "y": {"datum": 0},
      "fill": {"datum": "Mean prediction", "scale": {"domain": ["Mean prediction","Measurement","Combined 0.9 HDI","Measurement 0.9 CI"], "range": ["transparent","transparent","rgba(0,0,255,0.5)","rgba(0,128,0,0.5)"]},
        "legend": {"orient": "top-right", "offset": 7, "title": null, "padding": 6, "rowPadding": 2, "labelOffset": 17, "labelFontSize": 13, "labelFont": "Liberation Sans", "labelColor": "#222222", "symbolSize": 169, "symbolStrokeWidth": 1.8, "symbolOpacity": 1, "fillColor": "rgba(255,255,255,0.8)", "strokeColor": "#cccccc", "cornerRadius": 3}},
      "stroke": {"datum": "Mean prediction", "scale": {"domain": ["Mean prediction","Measurement","Combined 0.9 HDI","Measurement 0.9 CI"], "range": ["#ff0000","#000000","transparent","transparent"]}, "legend": {"title": null}},
      "shape": {"datum": "Mean prediction", "scale": {"domain": ["Mean prediction","Measurement","Combined 0.9 HDI","Measurement 0.9 CI"], "range": ["M-2.154,0H2.154","M-2.154,0H2.154","M-2.154,-0.769H2.154V0.769H-2.154Z","M-2.154,-0.769H2.154V0.769H-2.154Z"]}, "legend": {"title": null}},
      "strokeDash": {"datum": "Mean prediction", "scale": {"domain": ["Mean prediction","Measurement","Combined 0.9 HDI","Measurement 0.9 CI"], "range": [[1,0],[5.5,2.4],[1,0],[1,0]]}, "legend": {"title": null}}
     }},
    {"data": {"values": [{}]}, "mark": {"type": "text", "font": "DejaVu Sans", "fontSize": 14, "fontStyle": "italic", "align": "left", "baseline": "alphabetic", "color": "#000000"}, "encoding": {"x": {"datum": 7}, "y": {"datum": -15.7}, "text": {"value": "R"}}},
    {"data": {"values": [{}]}, "mark": {"type": "text", "font": "DejaVu Sans", "fontSize": 14, "align": "left", "baseline": "alphabetic", "dx": 10, "color": "#000000"}, "encoding": {"x": {"datum": 7}, "y": {"datum": -15.7}, "text": {"value": "² = 0.972"}}}
   ]
  },
  {
   "width": 472, "height": 168,
   "title": {"text": "Truck load: Right lane", "fontSize": 13, "offset": -4, "anchor": "middle", "frame": "group"},
   "layer": [
    {"data": {"name": "D"},
     "encoding": {"x": {"field": "x", "type": "quantitative", "scale": {"domain": [-14.75, 309.75], "nice": false, "zero": false}, "axis": {"values": [0,50,100,150,200,250,300], "title": "Front axle position - x direction [m]", "titlePadding": 3}}},
     "layer": [
      {"mark": {"type": "area", "opacity": 0.5, "color": "#0000ff"}, "encoding": {"y": {"field": "hl", "type": "quantitative", "scale": {"domain": [-40, 60], "nice": false}, "axis": {"values": [-40,-20,0,20,40,60], "tickCount": 6, "title": "Stress [MPa]", "labelOverlap": false, "labelBound": false}}, "y2": {"field": "hh"}}},
      {"mark": {"type": "area", "opacity": 0.5, "color": "#008000"}, "encoding": {"y": {"field": "cl", "type": "quantitative"}, "y2": {"field": "ch"}}},
      {"mark": {"type": "line", "strokeWidth": 1.8, "color": "#ff0000"}, "encoding": {"y": {"field": "m", "type": "quantitative"}}},
      {"mark": {"type": "line", "strokeWidth": 1.8, "strokeDash": [5.5, 2.4], "color": "#000000"}, "encoding": {"y": {"field": "d", "type": "quantitative"}}}
     ]},
    {"data": {"values": [{}]}, "mark": {"type": "text", "font": "DejaVu Sans", "fontSize": 14, "fontStyle": "italic", "align": "left", "baseline": "alphabetic", "color": "#000000"}, "encoding": {"x": {"datum": 7}, "y": {"datum": -33.3}, "text": {"value": "R"}}},
    {"data": {"values": [{}]}, "mark": {"type": "text", "font": "DejaVu Sans", "fontSize": 14, "align": "left", "baseline": "alphabetic", "dx": 10, "color": "#000000"}, "encoding": {"x": {"datum": 7}, "y": {"datum": -33.3}, "text": {"value": "² = 0.970"}}}
   ]
  }
 ]
}
]
}
